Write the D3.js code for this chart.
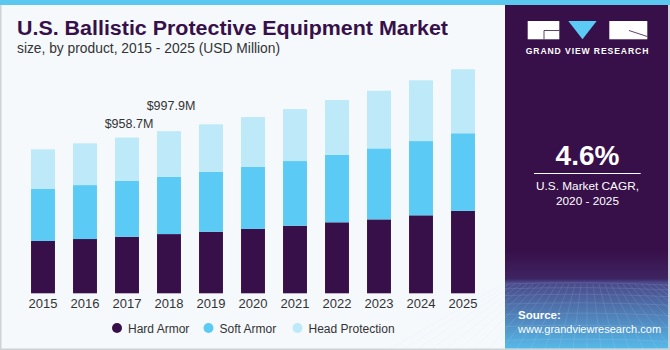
<!DOCTYPE html>
<html>
<head>
<meta charset="utf-8">
<script src="https://cdn.jsdelivr.net/npm/d3@7"></script>
<style>
  body { margin:0; padding:0; background:#fff; }
  svg text { font-family: "Liberation Sans", Arial, sans-serif; }
</style>
</head>
<body>
<svg width="670" height="350"></svg>
<script>
// data (USD Million)
const years = ['2015','2016','2017','2018','2019','2020','2021','2022','2023','2024','2025'];
const hardArmor = [322, 334, 348, 364.5, 379, 396, 416, 437, 455, 480, 507];
const softArmor = [320, 332, 345, 352.5, 369, 383, 398, 416, 437, 457, 478];
const headProtection = [244, 257, 265.7, 280.9, 292, 306, 320, 337, 355, 374, 394];
const seriesNames = ['Hard Armor', 'Soft Armor', 'Head Protection'];
const seriesColors = ['#37104a', '#5bcbf5', '#bde9f9'];
const callouts = [{ year:'2017', label:'$958.7M' }, { year:'2018', label:'$997.9M' }];

const svg = d3.select('svg');
const width = +svg.attr('width');
const height = +svg.attr('height');

// background panels
svg.append('rect').attr('width', width).attr('height', height).attr('fill', '#f5f9fc');
svg.append('rect').attr('x', 0).attr('y', 0).attr('width', 1.5).attr('height', height).attr('fill', '#cfd3d6');
svg.append('rect').attr('x', 0).attr('y', height - 1.5).attr('width', width).attr('height', 1.5).attr('fill', '#cfd3d6');

const defs = svg.append('defs');
const grad = defs.append('linearGradient').attr('id', 'panelGrad')
    .attr('x1', 0).attr('y1', 0).attr('x2', 0).attr('y2', 1);
grad.append('stop').attr('offset', '0').attr('stop-color', '#37104a');
grad.append('stop').attr('offset', '0.72').attr('stop-color', '#37104a');
grad.append('stop').attr('offset', '0.8').attr('stop-color', '#3e2462');
grad.append('stop').attr('offset', '0.81').attr('stop-color', '#4a4888');
grad.append('stop').attr('offset', '1').attr('stop-color', '#56b9e8');

const panelX = 505;
svg.append('rect').attr('x', panelX).attr('y', 0).attr('width', width - panelX - 2).attr('height', height - 1.5)
    .attr('fill', 'url(#panelGrad)');
svg.append('rect').attr('x', width - 2).attr('y', 0).attr('width', 2).attr('height', height).attr('fill', '#cfd3d6');

// faint grid in the bottom of the side panel
const gridG = svg.append('g').attr('opacity', 0.22).attr('stroke', '#cfe6ff').attr('stroke-width', 0.6).attr('fill', 'none');
d3.range(0, 9).forEach(i => {
    const y = 284 + i * i * 0.9 + i * 4;
    gridG.append('path').attr('d', `M${panelX},${y} Q${panelX + 80},${y - 3} ${width - 2},${y + 1}`);
});
d3.range(-14, 20).forEach(i => {
    const x0 = 587 + i * 6;
    const x1 = 587 + i * 14;
    gridG.append('line').attr('x1', x0).attr('y1', 284).attr('x2', x1).attr('y2', 348);
});

svg.append('rect').attr('x', 0).attr('y', 0).attr('width', width).attr('height', 5).attr('fill', '#5bc8f0');

// titles
svg.append('text').attr('x', 17).attr('y', 35)
    .attr('font-size', 20).attr('font-weight', 'bold').attr('fill', '#37104a')
    .attr('textLength', 431).attr('lengthAdjust', 'spacingAndGlyphs')
    .text('U.S. Ballistic Protective Equipment Market');
svg.append('text').attr('x', 17).attr('y', 53)
    .attr('font-size', 13.8).attr('fill', '#333')
    .text('size, by product, 2015 - 2025 (USD Million)');

// chart
const baseline = 293.3;
const xscale = d3.scaleBand().domain(years).range([22, 484])
    .paddingInner(0.43).paddingOuter(0.215);
const yscale = d3.scaleLinear().domain([0, 1000]).range([baseline, baseline - 1000 / 6.155]);

const rows = years.map((y, i) => ({ year: y, hard: hardArmor[i], soft: softArmor[i], head: headProtection[i] }));
const stack = d3.stack().keys(['hard', 'soft', 'head'])(rows);

const g = svg.append('g');
g.selectAll('g.series').data(stack).enter().append('g')
    .attr('fill', (d, i) => seriesColors[i])
    .selectAll('rect').data(d => d).enter().append('rect')
        .attr('x', d => xscale(d.data.year))
        .attr('y', d => yscale(d[1]))
        .attr('width', xscale.bandwidth())
        .attr('height', d => yscale(d[0]) - yscale(d[1]));

const xAxisG = g.append('g').attr('transform', `translate(0,${baseline})`)
    .call(d3.axisBottom(xscale).tickSize(0).tickPadding(5));
xAxisG.select('.domain').remove();
xAxisG.selectAll('text').attr('font-size', 13).attr('fill', '#333')
    .style('font-family', '"Liberation Sans", Arial, sans-serif');

// gap between bar top and label baseline, as in the reference
const calloutGap = { '2017': 9.5, '2018': 21 };
g.selectAll('text.callout').data(callouts).enter().append('text')
    .attr('class', 'callout')
    .attr('x', d => xscale(d.year) + xscale.bandwidth() / 2 + 2)
    .attr('y', d => {
        const i = years.indexOf(d.year);
        return yscale(hardArmor[i] + softArmor[i] + headProtection[i]) - calloutGap[d.year];
    })
    .attr('text-anchor', 'middle').attr('font-size', 12.5).attr('fill', '#333')
    .text(d => d.label);

// legend
const legendX = [117, 208.5, 297.5];
const legend = svg.append('g').selectAll('g').data(seriesNames).enter().append('g')
    .attr('transform', (d, i) => `translate(${legendX[i]},328)`);
legend.append('circle').attr('r', 5).attr('fill', (d, i) => seriesColors[i]);
legend.append('text').attr('x', 11).attr('y', 4.5).attr('font-size', 12).attr('fill', '#333').text(d => d);

// side panel: logo
const logo = svg.append('g');
logo.append('rect').attr('x', 527.7).attr('y', 21).attr('width', 31.6).attr('height', 18.3).attr('fill', '#fff');
logo.append('path').attr('d', 'M544,30.5 H559.3 M544,30.5 V39.3').attr('stroke', '#37104a').attr('stroke-width', 0.8).attr('fill', 'none');
logo.append('path').attr('d', 'M568.3,21 L596.7,21 L582.5,39.3 Z').attr('fill', '#5bcbf5');
logo.append('rect').attr('x', 609.3).attr('y', 21).attr('width', 38).attr('height', 18.3).attr('fill', '#fff');
logo.append('path').attr('d', 'M629,30.5 L647.3,36.5').attr('stroke', '#37104a').attr('stroke-width', 0.8);
logo.append('text').attr('x', 587.5).attr('y', 54).attr('text-anchor', 'middle')
    .attr('font-size', 8.6).attr('font-weight', 'bold').attr('letter-spacing', 0.9).attr('fill', '#fff')
    .text('GRAND VIEW RESEARCH');

// side panel: CAGR
svg.append('text').attr('x', 587.5).attr('y', 165).attr('text-anchor', 'middle')
    .attr('font-size', 28).attr('font-weight', 'bold').attr('fill', '#fff').text('4.6%');
svg.append('line').attr('x1', 534).attr('x2', 640.7).attr('y1', 173.5).attr('y2', 173.5)
    .attr('stroke', '#fff').attr('stroke-width', 1);
svg.append('text').attr('x', 587.5).attr('y', 190).attr('text-anchor', 'middle')
    .attr('font-size', 11.8).attr('fill', '#fff').text('U.S. Market CAGR,');
svg.append('text').attr('x', 587.5).attr('y', 205).attr('text-anchor', 'middle')
    .attr('font-size', 11.8).attr('fill', '#fff').text('2020 - 2025');

// side panel: source
svg.append('text').attr('x', 518).attr('y', 319)
    .attr('font-size', 11.5).attr('font-weight', 'bold').attr('fill', '#fff').text('Source:');
svg.append('text').attr('x', 518).attr('y', 332.5)
    .attr('font-size', 11).attr('fill', '#fff').text('www.grandviewresearch.com');
</script>
</body>
</html>
